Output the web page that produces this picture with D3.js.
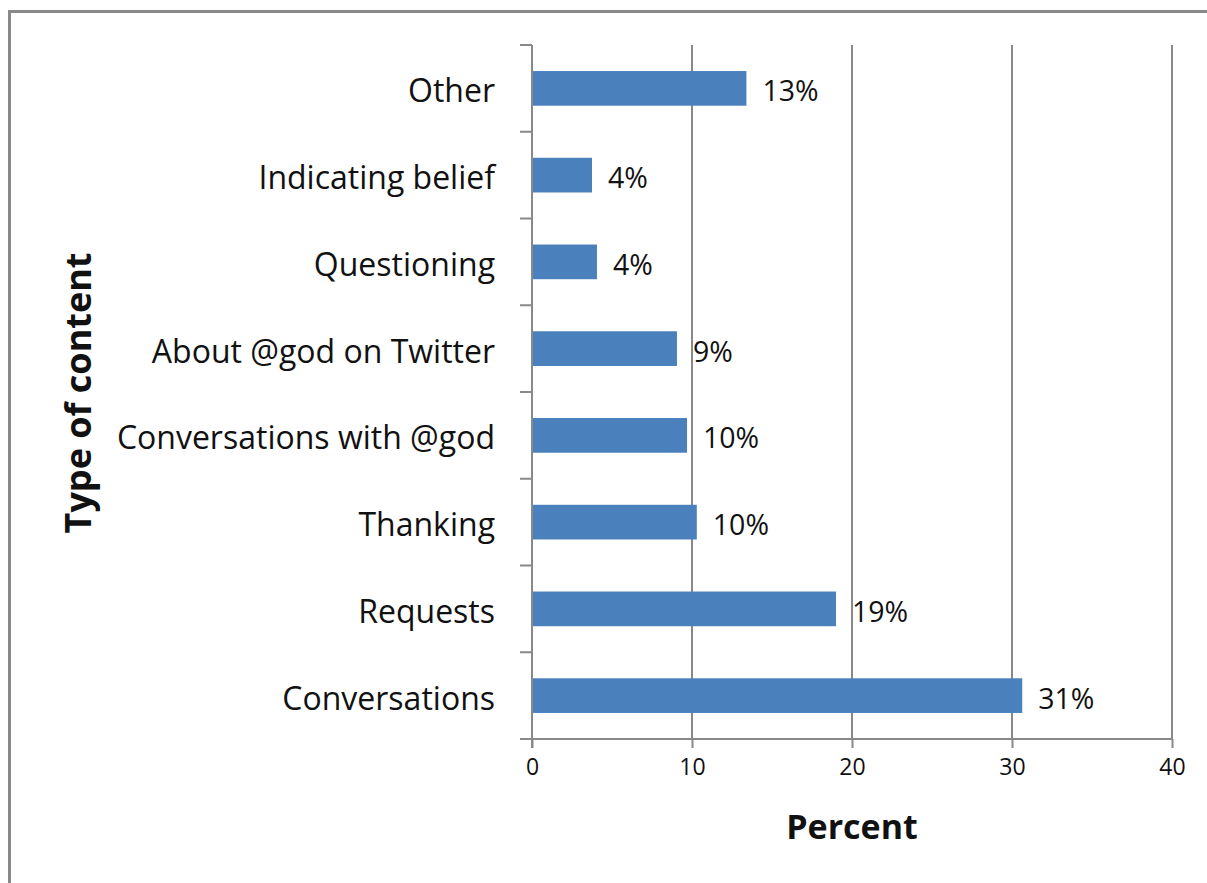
<!DOCTYPE html>
<html><head><meta charset="utf-8">
<script src="https://cdn.jsdelivr.net/npm/d3@7"></script>
<style>body{margin:0;background:#fff;} svg{display:block;}</style>
</head><body>
<svg id="c" width="1207" height="883"></svg>
<script>
const categories = ["Other","Indicating belief","Questioning","About @god on Twitter","Conversations with @god","Thanking","Requests","Conversations"];
const values = [13.4, 3.75, 4.06, 9.06, 9.69, 10.3, 19.0, 30.64];
const valueLabels = ["13%","4%","4%","9%","10%","10%","19%","31%"];
const xTicks = [0,10,20,30,40];
const xTitle = "Percent";
const yTitle = "Type of content";

(function(){
const svg = d3.select("#c");
const font = "'Open Sans', sans-serif";
const grey = "#898989";

svg.append("rect").attr("x",9.5).attr("y",11.5).attr("width",1210).attr("height",890)
  .attr("fill","none").attr("stroke",grey).attr("stroke-width",3);

const pL=532, pR=1172, pT=45, pB=739;
const x = d3.scaleLinear().domain([0,40]).range([pL,pR]);
const y = d3.scaleBand().domain(categories).range([pT,pB]).paddingInner(0.6).paddingOuter(0.3);

svg.append("g").selectAll("line").data(xTicks.slice(1)).join("line")
  .attr("x1",d=>x(d)).attr("x2",d=>x(d)).attr("y1",pT).attr("y2",pB)
  .attr("stroke",grey).attr("stroke-width",2);

svg.append("g").selectAll("rect").data(values).join("rect")
  .attr("x",x(0)).attr("y",(d,i)=>y(categories[i]))
  .attr("width",d=>x(d)-x(0)).attr("height",y.bandwidth())
  .attr("fill","#4a81bd");

const xAxis = d3.axisBottom(x).tickValues(xTicks).tickSize(9).tickPadding(11).tickFormat(d3.format("d"));
const gx = svg.append("g").attr("transform",`translate(0,${pB})`).call(xAxis);
gx.select(".domain").attr("stroke",grey).attr("stroke-width",2).attr("d",`M${pL-12},0H${pR}`);
gx.selectAll(".tick line").attr("stroke",grey).attr("stroke-width",2);
gx.selectAll("text").attr("font-family",font).attr("font-size",23).attr("fill","#111");

const step = (pB-pT)/categories.length;
const bounds = d3.range(categories.length+1).map(i=>pT+i*step);
svg.append("line").attr("x1",pL).attr("x2",pL).attr("y1",pT).attr("y2",pB+9)
  .attr("stroke",grey).attr("stroke-width",2);
svg.append("g").selectAll("line").data(bounds).join("line")
  .attr("x1",pL-12).attr("x2",pL).attr("y1",d=>d).attr("y2",d=>d)
  .attr("stroke",grey).attr("stroke-width",2);

svg.append("g").selectAll("text").data(categories).join("text")
  .attr("x",pL-37).attr("y",d=>y(d)+y.bandwidth()/2+14)
  .attr("text-anchor","end").attr("font-family",font).attr("font-size",32).attr("fill","#111")
  .text(d=>d);

svg.append("g").selectAll("text").data(values).join("text")
  .attr("x",d=>x(d)+16).attr("y",(d,i)=>y(categories[i])+y.bandwidth()/2+13)
  .attr("font-family",font).attr("font-size",28.5).attr("fill","#111")
  .text((d,i)=>valueLabels[i]);

svg.append("text").attr("x",852).attr("y",839).attr("text-anchor","middle")
  .attr("font-family",font).attr("font-weight","bold").attr("font-size",34).attr("fill","#111").text(xTitle);
svg.append("text").attr("transform","translate(91,393) rotate(-90)").attr("text-anchor","middle")
  .attr("font-family",font).attr("font-weight","bold").attr("font-size",36).attr("fill","#111").text(yTitle);
})();
</script>
</body></html>
